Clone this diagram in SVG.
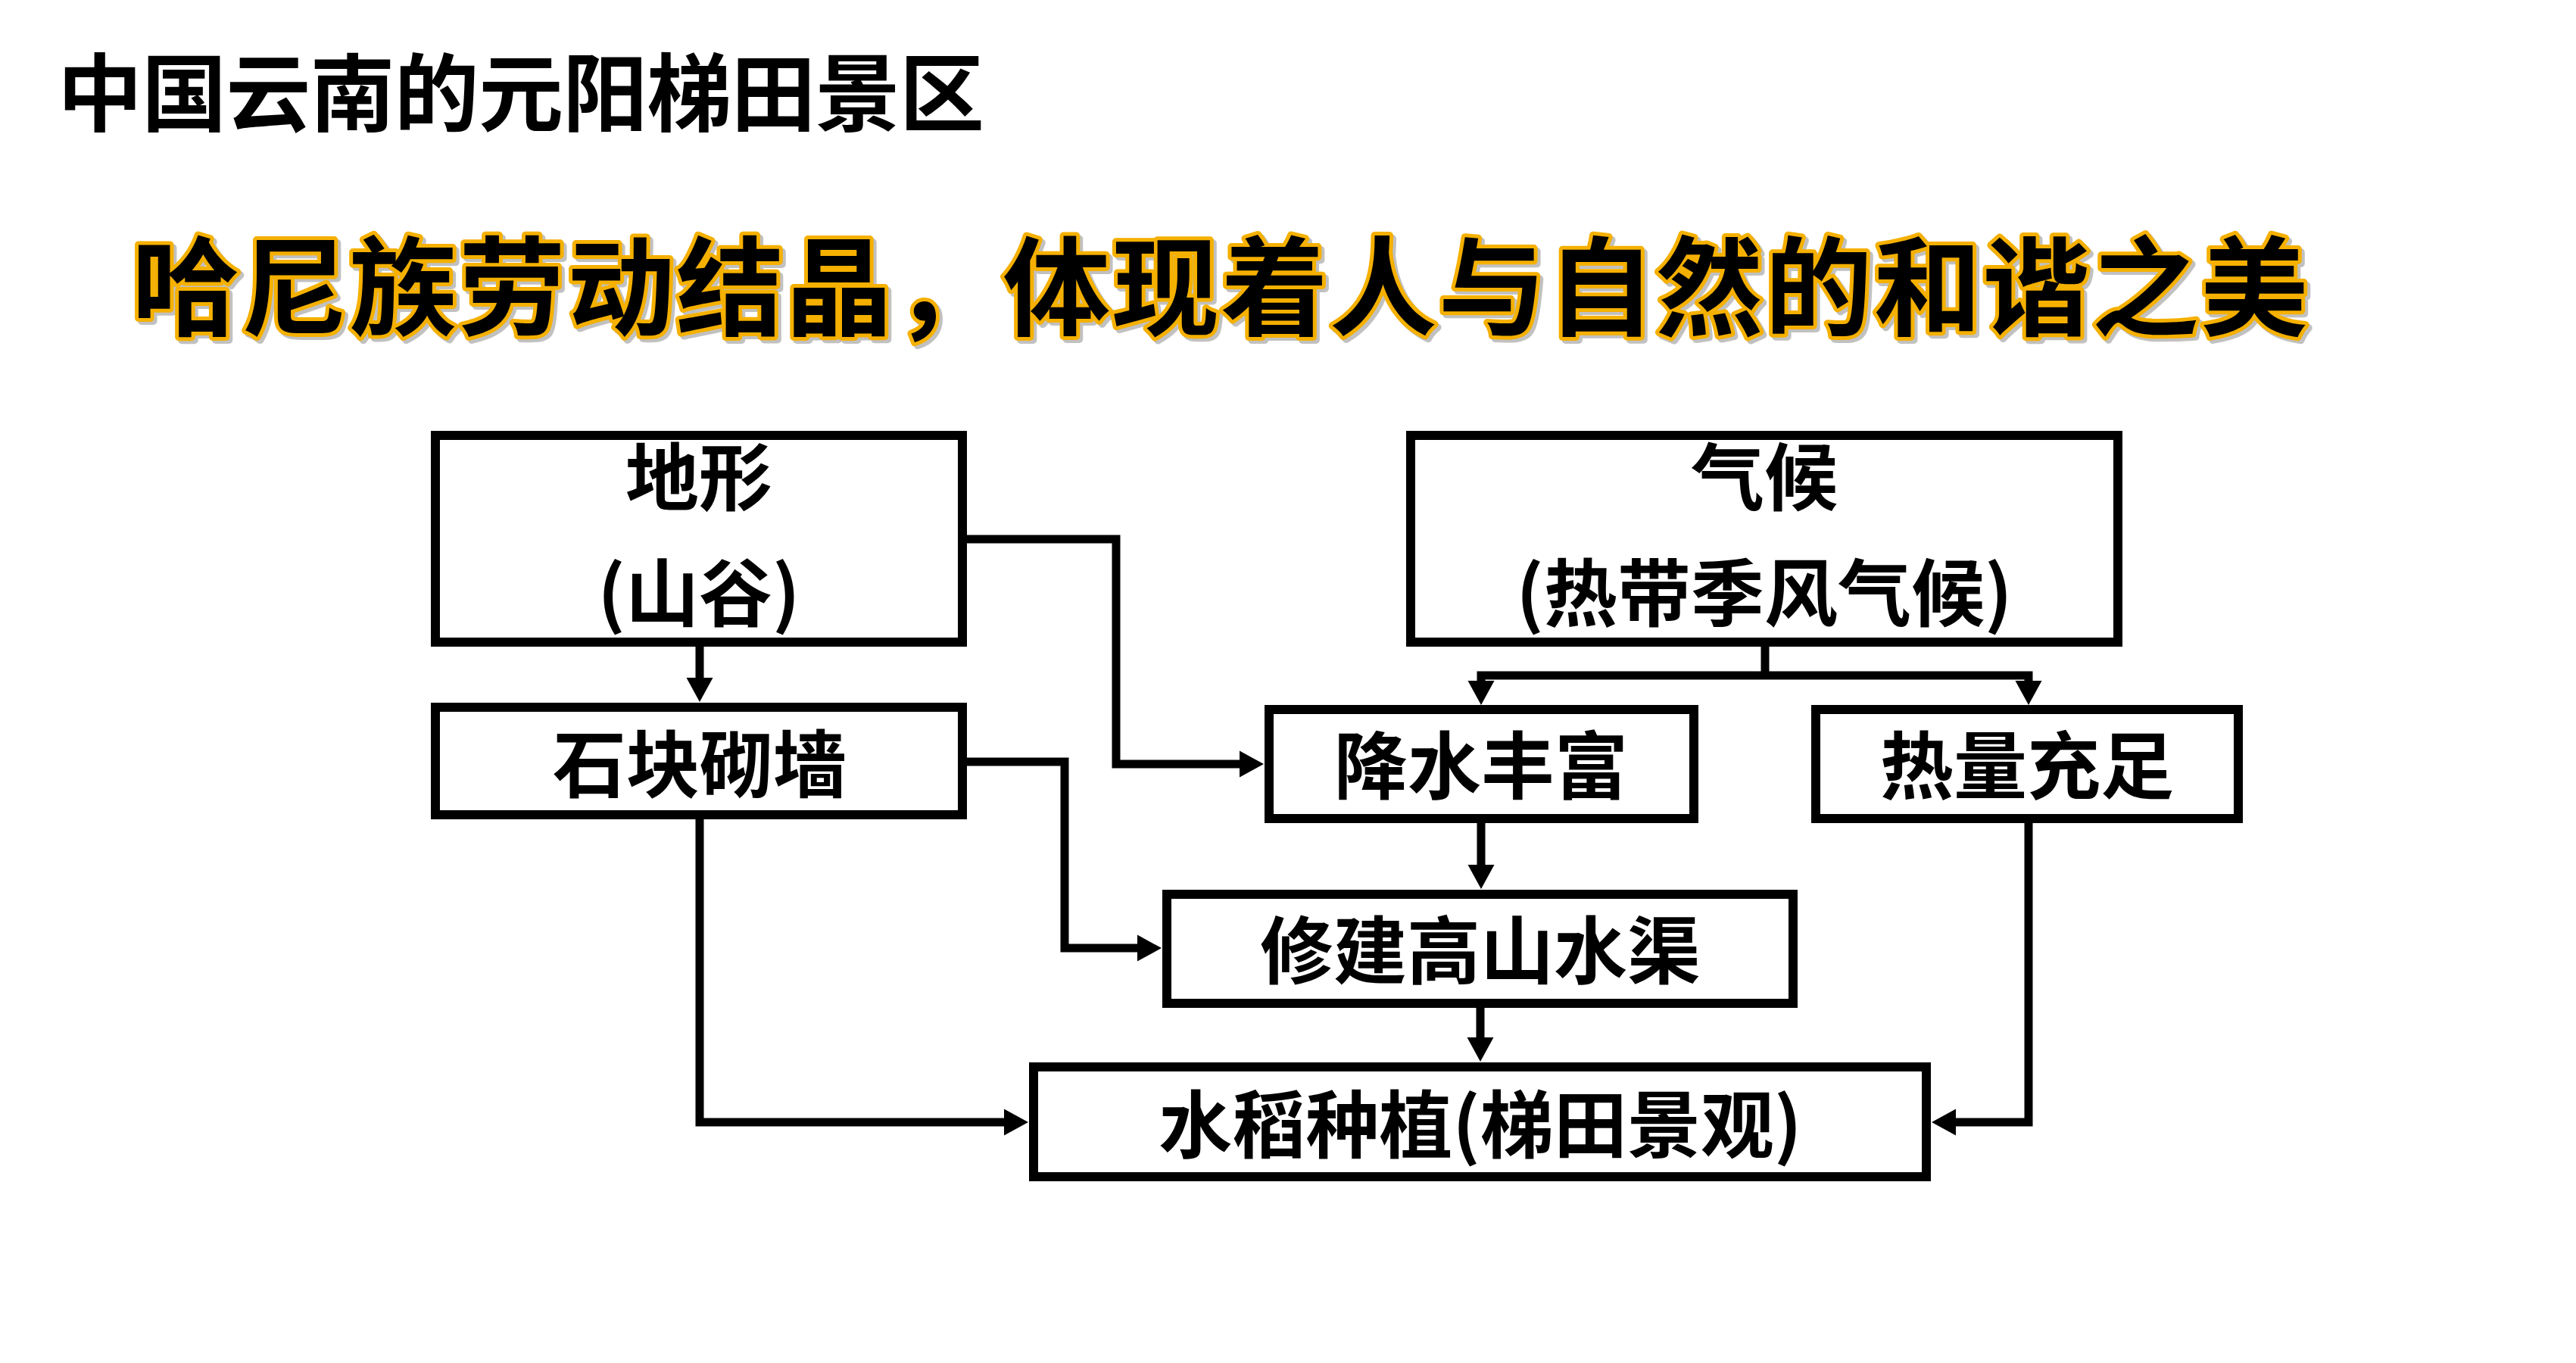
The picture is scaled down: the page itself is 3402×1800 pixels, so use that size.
<svg xmlns="http://www.w3.org/2000/svg" width="3402" height="1800" viewBox="0 0 3402 1800">
<style>
.box{fill:#fff;stroke:#000;stroke-width:12}
.lbl{font-family:"Noto Sans CJK SC","Noto Sans",sans-serif;font-weight:700;font-size:97px;fill:#000;text-anchor:middle}
.con{fill:none;stroke:#000;stroke-width:11;stroke-linejoin:miter}
.title{font-family:"Noto Sans CJK SC","Noto Sans",sans-serif;font-weight:700;font-size:112px;fill:#000}
.sub{font-family:"Noto Sans CJK SC","Noto Sans",sans-serif;font-weight:700;font-size:142px}
</style>
<defs>
<marker id="arr" markerUnits="userSpaceOnUse" markerWidth="34" markerHeight="36" viewBox="0 -18 34 36" refX="1" refY="0" orient="auto-start-reverse">
<path d="M0,-17.5 L32,0 L0,17.5 Z" fill="#000"/>
</marker>
</defs>
<rect width="3402" height="1800" fill="#fff"/>
<text class="title" x="76" y="165" textLength="1224">中国云南的元阳梯田景区</text>
<g id="subtitle">
<text class="sub" x="178" y="436" textLength="2874" fill="#999" opacity="0.6" stroke="#999" stroke-width="10" stroke-linejoin="round">哈尼族劳动结晶，体现着人与自然的和谐之美</text>
<text class="sub" x="174" y="432" textLength="2874" fill="#000" stroke="#F5B000" stroke-width="10" stroke-linejoin="round" paint-order="stroke">哈尼族劳动结晶，体现着人与自然的和谐之美</text>
</g>
<g id="connectors">
<path class="con" d="M924,854 V896" marker-end="url(#arr)"/>
<path class="con" d="M1277,712 H1474 V1009 H1638" marker-end="url(#arr)"/>
<path class="con" d="M2331,854 V892"/>
<path class="con" d="M1956,900 V892 H2679 V900" marker-start="url(#arr)" marker-end="url(#arr)"/>
<path class="con" d="M1277,1006 H1406 V1252 H1503" marker-end="url(#arr)"/>
<path class="con" d="M924,1082 V1482 H1327" marker-end="url(#arr)"/>
<path class="con" d="M1956,1087 V1143" marker-end="url(#arr)"/>
<path class="con" d="M1955,1331 V1371" marker-end="url(#arr)"/>
<path class="con" d="M2679,1087 V1482 H2582" marker-end="url(#arr)"/>
</g>
<g id="node-dixing">
<rect class="box" x="575" y="575" width="696" height="273"/>
<text class="lbl" x="923" y="666">地形</text>
<text class="lbl" x="923" y="819">(山谷)</text>
</g>
<g id="node-qihou">
<rect class="box" x="1863" y="575" width="934" height="273"/>
<text class="lbl" x="2330" y="666">气候</text>
<text class="lbl" x="2330" y="819">(热带季风气候)</text>
</g>
<g id="node-shikuai">
<rect class="box" x="575" y="934" width="696" height="142"/>
<text class="lbl" x="924" y="1045">石块砌墙</text>
</g>
<g id="node-jiangshui">
<rect class="box" x="1676" y="937" width="561" height="144"/>
<text class="lbl" x="1956" y="1047">降水丰富</text>
</g>
<g id="node-reliang">
<rect class="box" x="2398" y="937" width="558" height="144"/>
<text class="lbl" x="2677" y="1047">热量充足</text>
</g>
<g id="node-xiujian">
<rect class="box" x="1541" y="1181" width="827" height="144"/>
<text class="lbl" x="1955" y="1291">修建高山水渠</text>
</g>
<g id="node-shuidao">
<rect class="box" x="1365" y="1409" width="1179" height="145"/>
<text class="lbl" x="1955" y="1521">水稻种植(梯田景观)</text>
</g>
</svg>
